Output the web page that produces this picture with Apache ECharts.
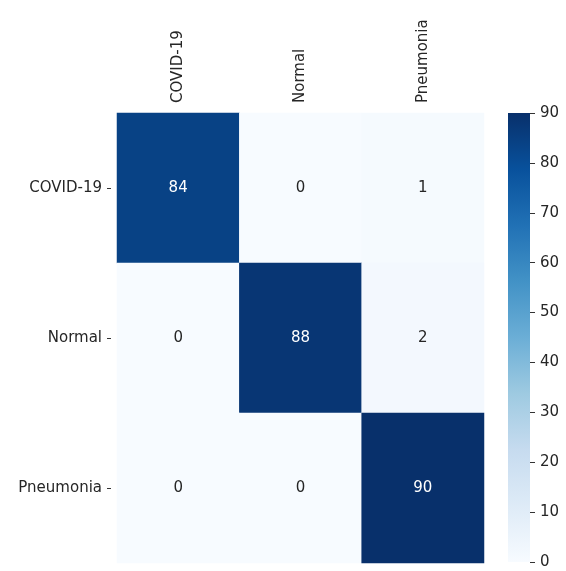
<!DOCTYPE html>
<html>
<head>
<meta charset="utf-8">
<script src="https://cdn.jsdelivr.net/npm/echarts@6/dist/echarts.min.js"></script>
<style>
  html, body { margin: 0; padding: 0; background: #ffffff; }
  #chart { width: 566px; height: 571px; }
</style>
</head>
<body>
<div id="chart"></div>
<script>
// Confusion matrix: rows are true classes, columns are predicted classes
const classes = ['COVID-19', 'Normal', 'Pneumonia'];
const rowCovid = [84, 0, 1];
const rowNormal = [0, 88, 2];
const rowPneumonia = [0, 0, 90];
const colorbarTicks = [0, 10, 20, 30, 40, 50, 60, 70, 80, 90];

const matrix = [rowCovid, rowNormal, rowPneumonia];
const vMin = colorbarTicks[0];
const vMax = colorbarTicks[colorbarTicks.length - 1];

// matplotlib "Blues" colour ramp
const blues = ['#f7fbff', '#deebf7', '#c6dbef', '#9ecae1', '#6baed6',
               '#4292c6', '#2171b5', '#08519c', '#08306b'];

const FONT = 'DejaVu Sans';
const cells = [];
matrix.forEach((row, r) => {
  row.forEach((v, c) => {
    cells.push({
      value: [c, r, v],
      label: { color: v > (vMax - vMin) / 2 ? '#ffffff' : '#262626' }
    });
  });
});

// Colour bar: one rectangle spanning vMin..vMax on its own axis, filled with the ramp
function renderColorbar(params, api) {
  const top = api.coord([0, vMax]);
  const bottom = api.coord([1, vMin]);
  const stops = blues.map((c, i) => ({ offset: i / (blues.length - 1), color: c }));
  return {
    type: 'rect',
    shape: { x: top[0], y: top[1], width: bottom[0] - top[0], height: bottom[1] - top[1] },
    style: { fill: new echarts.graphic.LinearGradient(0, 1, 0, 0, stops) }
  };
}

const chart = echarts.init(document.getElementById('chart'), null, { renderer: 'canvas' });
chart.setOption({
  animation: false,
  backgroundColor: '#ffffff',
  grid: [
    { left: 117, top: 113, width: 367, height: 450 },
    { left: 508, top: 113, width: 22, height: 449 }
  ],
  xAxis: [
    {
      type: 'category', gridIndex: 0, data: classes, position: 'top',
      axisLine: { show: false, onZero: false },
      axisTick: { show: false },
      splitLine: { show: false },
      axisLabel: { rotate: -90, margin: 10, fontFamily: FONT, fontSize: 15, color: '#262626' }
    },
    { type: 'value', gridIndex: 1, show: false, min: 0, max: 1 }
  ],
  yAxis: [
    {
      type: 'category', gridIndex: 0, data: classes, inverse: true,
      offset: 6,
      axisLine: { show: false, onZero: false },
      axisTick: { show: true, length: 4, alignWithLabel: true, lineStyle: { color: '#333333' } },
      splitLine: { show: false },
      axisLabel: { margin: 9, fontFamily: FONT, fontSize: 15, color: '#262626' }
    },
    {
      type: 'value', gridIndex: 1, position: 'right', min: vMin, max: vMax, interval: 10,
      z: 20,
      axisLine: { show: false, onZero: false },
      axisTick: { show: true, length: 5, lineStyle: { color: '#333333' } },
      splitLine: { show: false },
      axisLabel: {
        margin: 10, fontFamily: FONT, fontSize: 15, color: '#262626',
        formatter: v => colorbarTicks.includes(v) ? String(v) : ''
      }
    }
  ],
  visualMap: {
    type: 'continuous',
    show: false,
    min: vMin, max: vMax,
    seriesIndex: 0,
    inRange: { color: blues }
  },
  series: [
    {
      type: 'heatmap',
      xAxisIndex: 0, yAxisIndex: 0,
      data: cells,
      label: { show: true, fontFamily: FONT, fontSize: 15 },
      itemStyle: { borderWidth: 0 }
    },
    {
      type: 'custom', xAxisIndex: 1, yAxisIndex: 1, silent: true,
      data: [[0, vMax]],
      renderItem: renderColorbar
    }
  ]
});
</script>
</body>
</html>
